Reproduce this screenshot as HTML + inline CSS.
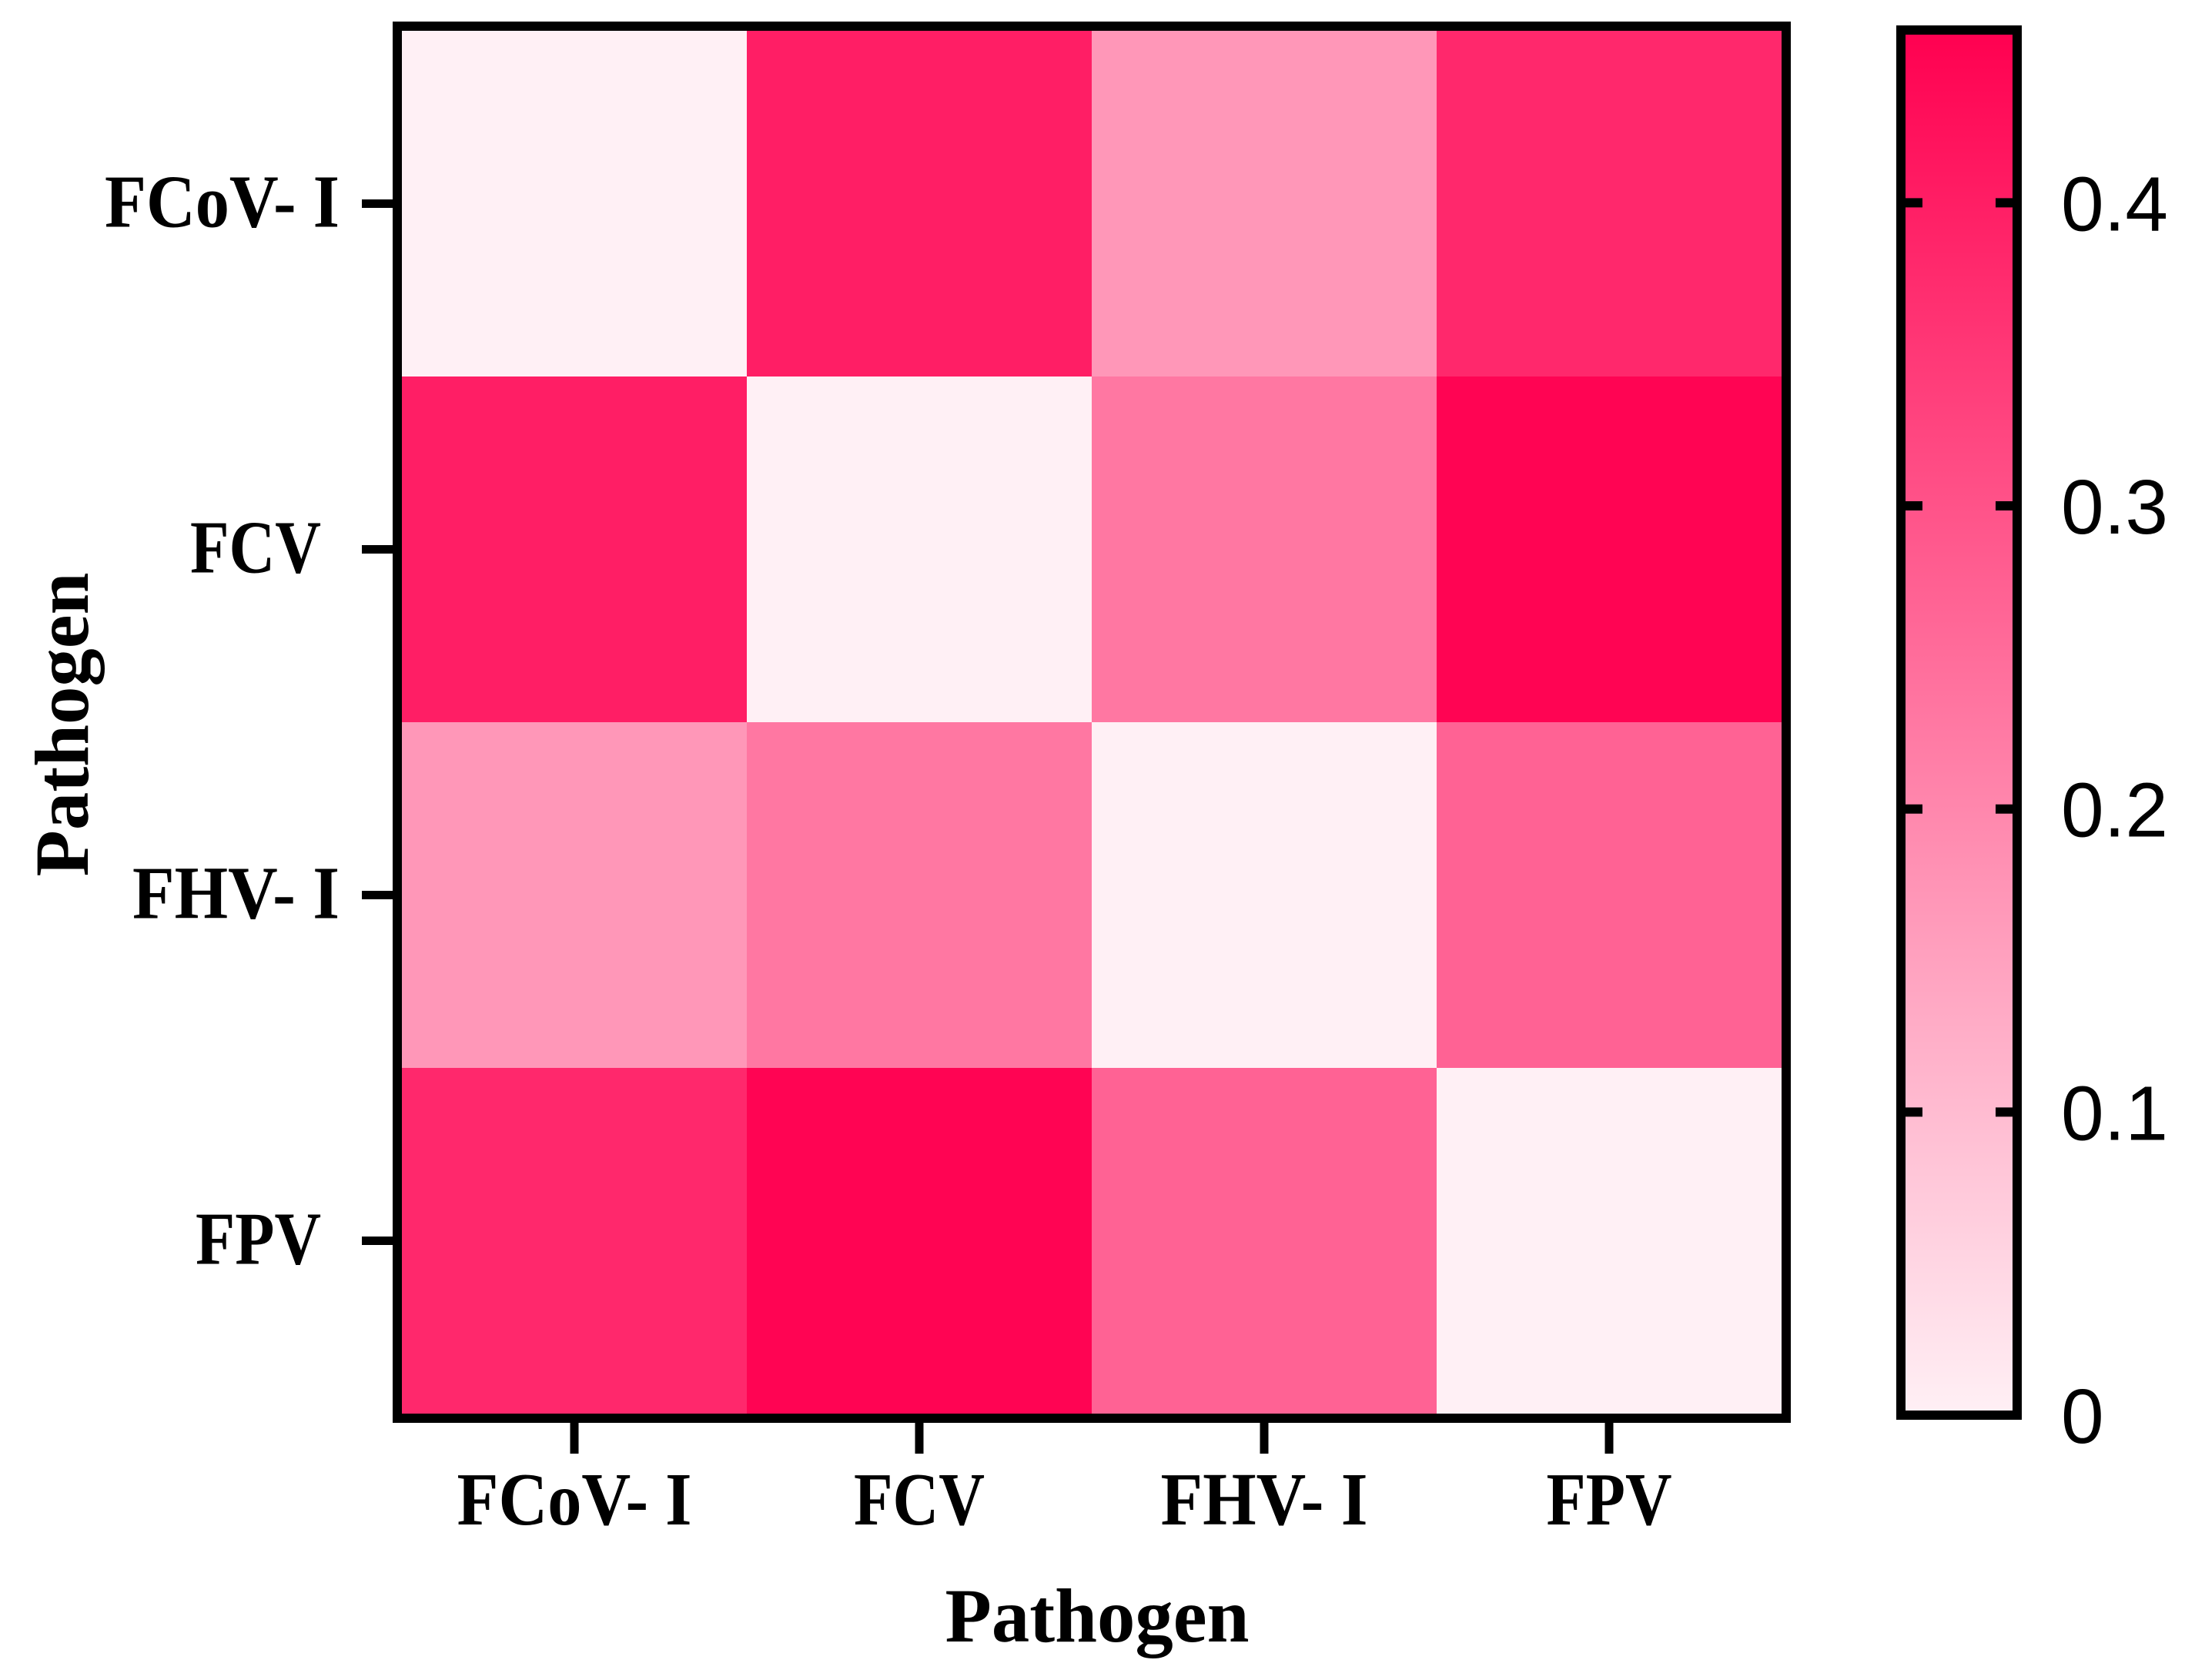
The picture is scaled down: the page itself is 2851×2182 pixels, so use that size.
<!DOCTYPE html>
<html><head><meta charset="utf-8"><style>html,body{margin:0;padding:0;background:#fff}svg{display:block}</style></head>
<body>
<svg id="chart" width="2851" height="2182" viewBox="0 0 2851 2182" xmlns="http://www.w3.org/2000/svg">
<defs><linearGradient id="cbg" x1="0" y1="1" x2="0" y2="0"><stop offset="0" stop-color="#FFF0F5"/><stop offset="1" stop-color="#FF0050"/></linearGradient></defs>
<g id="cells"></g>
<g id="axes"></g>
</svg>
<script>
const categories = ["FCoV- I","FCV","FHV- I","FPV"];
const rowFCoV = [0.0, 0.40, 0.17, 0.38];
const rowFCV  = [0.40, 0.0, 0.23, 0.45];
const rowFHV  = [0.17, 0.23, 0.0, 0.27];
const rowFPV  = [0.38, 0.45, 0.27, 0.0];
const values = [rowFCoV, rowFCV, rowFHV, rowFPV];
const cbTicks = [0, 0.1, 0.2, 0.3, 0.4];
const cbTickLabels = ["0","0.1","0.2","0.3","0.4"];
const vMax = 0.457;

const NS = "http://www.w3.org/2000/svg";
const L = 522, T = 40, CW = 448, RH = 449;
const xPos = i => L + i * CW;
const yPos = j => T + j * RH;
const CBX = 2469, CBW = 151, CBT = 39, CBB = 1838;
const cbY = v => CBB - (v / vMax) * (CBB - CBT);
function color(v) {
  const t = Math.max(0, Math.min(1, v / vMax));
  const g = Math.round(240 - 240 * t), b = Math.round(245 - 165 * t);
  return `rgb(255,${g},${b})`;
}
function mk(tag, attrs, parent) {
  const e = document.createElementNS(NS, tag);
  for (const k in attrs) e.setAttribute(k, attrs[k]);
  parent.appendChild(e); return e;
}
const cells = document.getElementById('cells');
const axes = document.getElementById('axes');
values.forEach((row, j) => row.forEach((v, i) => {
  const r = mk('rect', {x: xPos(i), y: yPos(j), width: CW + 0.5, height: RH + 0.5, fill: color(v)}, cells);
  
  
}));
const frame = mk('rect', {x: L - 6, y: T - 6, width: 4 * CW + 12, height: 4 * RH + 12, fill: 'none', stroke: '#000', 'stroke-width': 12}, axes);


const serif = '"Liberation Serif", serif';
const yWidths = [305, 170, 269, 163];
categories.forEach((c, i) => {
  const cx = xPos(i) + CW / 2;
  const t1 = mk('line', {x1: cx, y1: T + 4 * RH + 12, x2: cx, y2: 1888, stroke: '#000', 'stroke-width': 11}, axes);
  
  
  const xl = mk('text', {x: cx, y: 1980, 'text-anchor': 'middle', 'font-family': serif, 'font-weight': 'bold', 'font-size': 98, textLength: yWidths[i], lengthAdjust: 'spacingAndGlyphs'}, axes);
  xl.textContent = c;
  
  
  const cy = yPos(i) + RH / 2;
  const t2 = mk('line', {x1: 470, y1: cy, x2: L - 12, y2: cy, stroke: '#000', 'stroke-width': 11}, axes);
  
  
  const yl = mk('text', {x: (i % 2 === 1) ? 417 : 441, y: cy + 30, 'text-anchor': 'end', 'font-family': serif, 'font-weight': 'bold', 'font-size': 98, textLength: yWidths[i], lengthAdjust: 'spacingAndGlyphs'}, axes);
  yl.textContent = c;
  
  
});
const xt = mk('text', {x: 1425, y: 2132, 'text-anchor': 'middle', 'font-family': serif, 'font-weight': 'bold', 'font-size': 100, textLength: 395, lengthAdjust: 'spacingAndGlyphs'}, axes);
xt.textContent = 'Pathogen';


const yt = mk('text', {x: 0, y: 0, transform: 'translate(114,941) rotate(-90)', 'text-anchor': 'middle', 'font-family': serif, 'font-weight': 'bold', 'font-size': 100, textLength: 395, lengthAdjust: 'spacingAndGlyphs'}, axes);
yt.textContent = 'Pathogen';


const cb = mk('rect', {x: CBX, y: CBT, width: CBW, height: CBB - CBT, fill: 'url(#cbg)', stroke: '#000', 'stroke-width': 12}, axes);


cbTicks.forEach((v, k) => {
  const y = cbY(v);
  if (v > 0) {
    const a = mk('line', {x1: CBX, y1: y, x2: CBX + 28, y2: y, stroke: '#000', 'stroke-width': 12}, axes);
    
    
    const b = mk('line', {x1: CBX + CBW - 28, y1: y, x2: CBX + CBW, y2: y, stroke: '#000', 'stroke-width': 12}, axes);
    
    
  }
  const tl = mk('text', {x: 2677, y: y + 36, 'font-family': '"Liberation Sans", sans-serif', 'font-size': 100}, axes);
  tl.textContent = cbTickLabels[k];
  
  
});
</script>
</body></html>
